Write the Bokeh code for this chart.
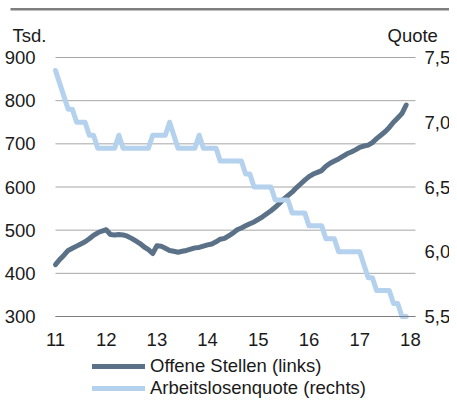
from bokeh.plotting import figure
from bokeh.models import (Range1d, LinearAxis, FixedTicker, CustomJSTickFormatter,
                          Legend, Label, BoxAnnotation, ColumnDataSource)
from bokeh.embed import file_html
from bokeh.resources import INLINE

# ---- data (monthly, Jan 2011 .. Dec 2017) ----
years = [11, 12, 13, 14, 15, 16, 17, 18]
offene_stellen = [  # Tsd., left axis
    420, 432, 442, 453, 458, 463, 468, 473, 480, 488, 494, 498,
    501, 490, 489, 490, 489, 486, 481, 475, 469, 461, 455, 446,
    464, 463, 458, 453, 451, 449, 451, 453, 456, 459, 460, 463,
    466, 468, 473, 479, 481, 487, 493, 501, 505, 510, 515, 519,
    525, 531, 538, 545, 553, 562, 572, 580, 588, 598, 607, 616,
    624, 630, 634, 638, 648, 655, 660, 665, 671, 677, 681, 686,
    692, 695, 697, 703, 712, 720, 728, 738, 750, 760, 770, 790,
]
arbeitslosenquote = [  # %, right axis
    7.4, 7.3, 7.2, 7.1, 7.1, 7.0, 7.0, 7.0, 6.9, 6.9, 6.8, 6.8,
    6.8, 6.8, 6.8, 6.9, 6.8, 6.8, 6.8, 6.8, 6.8, 6.8, 6.8, 6.9,
    6.9, 6.9, 6.9, 7.0, 6.9, 6.8, 6.8, 6.8, 6.8, 6.8, 6.9, 6.8,
    6.8, 6.8, 6.8, 6.7, 6.7, 6.7, 6.7, 6.7, 6.7, 6.6, 6.6, 6.5,
    6.5, 6.5, 6.5, 6.5, 6.4, 6.4, 6.4, 6.4, 6.3, 6.3, 6.3, 6.3,
    6.2, 6.2, 6.2, 6.2, 6.1, 6.1, 6.1, 6.0, 6.0, 6.0, 6.0, 6.0,
    6.0, 5.9, 5.8, 5.8, 5.7, 5.7, 5.7, 5.7, 5.6, 5.6, 5.5, 5.5,
]
left_ticks = [300, 400, 500, 600, 700, 800, 900]
right_ticks = [5.5, 6.0, 6.5, 7.0, 7.5]
series_names = ["Offene Stellen (links)", "Arbeitslosenquote (rechts)"]

# ---- layout geometry (pixels) ----
W, H = 449, 399
PX_YEAR = 50.7                  # px per year
PX_UNIT = 259 / 600             # px per Tsd.
FR_L, FR_T, FR_B = 55, 57, 316  # plot-area edges inside the figure
X0, X_END = 11.0, 18.1          # plot-area x extent (data)
Y0, Y1 = 300, 900               # left axis extent
Q0, Q1 = 5.5, 7.5               # right axis extent

xr = Range1d(X0 - FR_L / PX_YEAR, X0 + (W - FR_L) / PX_YEAR)
yr = Range1d(Y0 - (H - FR_B) / PX_UNIT, Y1 + FR_T / PX_UNIT)
qs = (Q1 - Q0) / (Y1 - Y0)
qr = Range1d(Q0 + (yr.start - Y0) * qs, Q0 + (yr.end - Y0) * qs)

x = [years[0] + i / 12 for i in range(len(offene_stellen))]
src = ColumnDataSource(dict(x=x, os=offene_stellen, q=arbeitslosenquote))
grid_src = ColumnDataSource(dict(y=left_ticks, x0=[X0] * len(left_ticks),
                                 x1=[X_END] * len(left_ticks)))

FONT = "Liberation Sans"
FS = "18.5px"
TXT = "#1a1a1a"
DARK = "#5A7188"
LIGHT = "#B4D1EE"

p = figure(width=W, height=H, output_backend="svg", toolbar_location=None,
           x_range=xr, y_range=yr,
           min_border_left=0, min_border_right=0, min_border_top=0, min_border_bottom=0)
p.outline_line_color = None
p.background_fill_color = "white"
p.border_fill_color = "white"
p.extra_y_ranges = {"q": qr}
p.xgrid.grid_line_color = None
p.ygrid.grid_line_color = None

# axes (fixed inside the canvas)
p.xaxis.fixed_location = Y0
p.xaxis.bounds = (X0, X_END)
p.xaxis.ticker = FixedTicker(ticks=years)
p.xaxis.axis_line_color = "#7F7F7F"
p.xaxis.major_tick_line_color = None
p.xaxis.minor_tick_line_color = None
p.xaxis.major_label_standoff = 10
p.xaxis.major_label_text_font = FONT
p.xaxis.major_label_text_font_size = FS
p.xaxis.major_label_text_color = TXT

p.yaxis.fixed_location = X0
p.yaxis.bounds = (Y0, Y1)
p.yaxis.ticker = FixedTicker(ticks=left_ticks)
p.yaxis.axis_line_color = None
p.yaxis.major_tick_line_color = None
p.yaxis.minor_tick_line_color = None
p.yaxis.major_label_standoff = 14
p.yaxis.major_label_text_font = FONT
p.yaxis.major_label_text_font_size = FS
p.yaxis.major_label_text_color = TXT

ax_r = LinearAxis(y_range_name="q", ticker=FixedTicker(ticks=right_ticks),
                  formatter=CustomJSTickFormatter(code="return tick.toFixed(1).replace('.', ',');"))
ax_r.fixed_location = X_END
ax_r.bounds = (Q0, Q1)
ax_r.axis_line_color = None
ax_r.major_tick_line_color = None
ax_r.minor_tick_line_color = None
ax_r.major_label_standoff = 3
ax_r.major_label_text_font = FONT
ax_r.major_label_text_font_size = FS
ax_r.major_label_text_color = TXT
p.add_layout(ax_r, "right")

# horizontal gridlines limited to the plot area
p.segment(x0="x0", x1="x1", y0="y", y1="y", source=grid_src,
          line_color="#A6A6A6", line_width=1)

r1 = p.line("x", "os", source=src, line_color=DARK, line_width=5,
            line_join="round", line_cap="round")
r2 = p.line("x", "q", source=src, y_range_name="q", line_color=LIGHT, line_width=5,
            line_join="round", line_cap="round")

# top rule
p.add_layout(BoxAnnotation(left=xr.start + 10 / PX_YEAR, right=xr.end,
                           top=yr.end - 7.5 / PX_UNIT, bottom=yr.end - 10 / PX_UNIT,
                           fill_color="#7F7F7F", fill_alpha=1, line_color=None))

p.add_layout(Label(x=X0 - 43 / PX_YEAR, y=Y1 + 22 / PX_UNIT, text="Tsd.",
                   text_font=FONT, text_font_size=FS, text_color=TXT,
                   text_baseline="alphabetic"))
p.add_layout(Label(x=X0 + 332 / PX_YEAR, y=Y1 + 22 / PX_UNIT, text="Quote",
                   text_font=FONT, text_font_size=FS, text_color=TXT,
                   text_baseline="alphabetic"))

legend = Legend(items=[(series_names[0], [r1]), (series_names[1], [r2])],
                location=(92, 0), orientation="vertical",
                glyph_width=53, glyph_height=20, label_height=20, spacing=0, padding=0,
                label_standoff=5, border_line_color=None, background_fill_alpha=0,
                label_text_font=FONT, label_text_font_size=FS, label_text_color=TXT,
                margin=0)
p.add_layout(legend)

open("out.html", "w").write(file_html(p, INLINE))
